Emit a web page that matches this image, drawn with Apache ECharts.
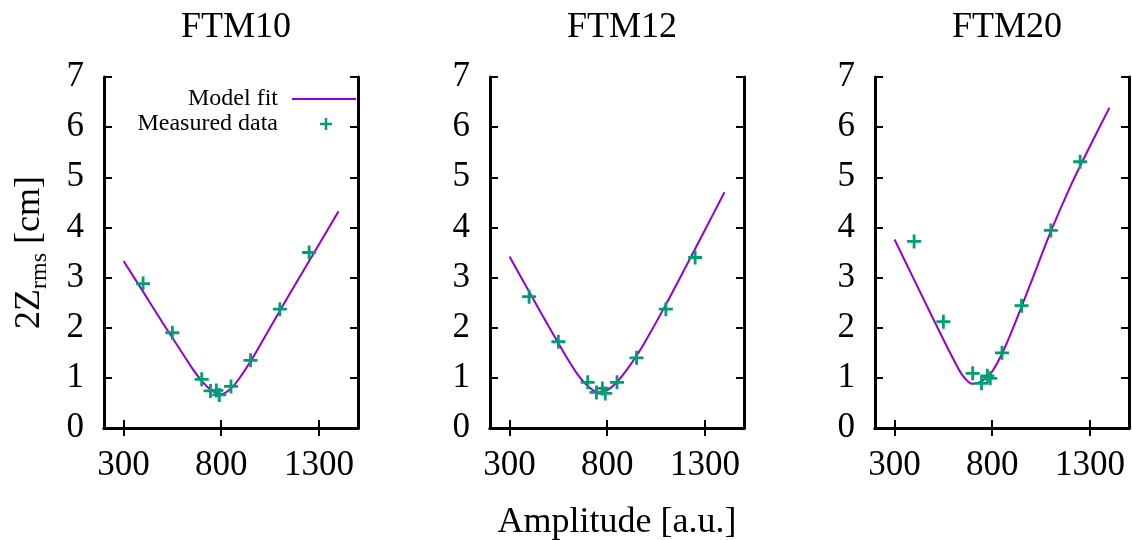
<!DOCTYPE html>
<html>
<head>
<meta charset="UTF-8">
<title>2Zrms vs Amplitude</title>
<script type="text/javascript" src="https://cdn.jsdelivr.net/npm/echarts@6/dist/echarts.min.js"></script>
<style>
html,body{margin:0;padding:0;background:#fff;}
#main{width:1132px;height:540px;}
</style>
</head>
<body>
<div id="main"></div>
<script type="text/javascript">
// panel names
var panelNames = ['FTM10', 'FTM12', 'FTM20'];
// measured points (amplitude, 2Zrms)
var measAmp   = [400, 550, 700, 745, 775, 790, 850, 950, 1100, 1250];
var measFTM10 = [2.88, 1.90, 0.97, 0.74, 0.75, 0.66, 0.83, 1.35, 2.37, 3.50];
var measFTM12 = [2.62, 1.72, 0.91, 0.71, 0.79, 0.69, 0.91, 1.40, 2.37, 3.40];
var measFTM20 = [3.72, 2.12, 1.09, 0.89, 1.04, 0.99, 1.50, 2.44, 3.94, 5.31];
// model fit curves
var fitAmp   = [300, 400, 500, 600, 650, 700, 750, 800, 850, 900, 950, 1000, 1100, 1200, 1300, 1400];
var fitFTM10 = [3.33, 2.72, 2.10, 1.50, 1.20, 0.94, 0.75, 0.68, 0.79, 1.03, 1.33, 1.66, 2.34, 3.00, 3.66, 4.32];
var fitFTM12 = [3.42, 2.72, 2.03, 1.36, 1.06, 0.84, 0.72, 0.75, 0.92, 1.16, 1.44, 1.76, 2.46, 3.20, 3.95, 4.70];
var fitFTM20 = [3.76, 2.96, 2.16, 1.38, 1.04, 0.88, 0.94, 1.13, 1.48, 1.93, 2.42, 2.92, 3.92, 4.82, 5.62, 6.39];
// axis ticks
var xTicks = [300, 800, 1300];

var measList = [measFTM10, measFTM12, measFTM20];
var fitList = [fitFTM10, fitFTM12, fitFTM20];

var FONT = 'Liberation Serif';
var gridLeft = [104, 490, 875];
var gridTop = 77, gridW = 254, gridH = 351;
// plus marker, and same marker padded to legend sample width
var plusPath = 'path://M4.8,0 H7.2 V4.8 H12 V7.2 H7.2 V12 H4.8 V7.2 H0 V4.8 H4.8 Z';
var plusLegend = 'path://M0,0 L0.01,0 L0,0.01 Z M32.8,0 H35.2 V4.8 H40 V7.2 H35.2 V12 H32.8 V7.2 H28 V4.8 H32.8 Z M64,12 L63.99,12 L64,11.99 Z';

var chart = echarts.init(document.getElementById('main'));

var grids = [], xAxes = [], yAxes = [], series = [], titles = [];
var frame = {show: true, lineStyle: {color: '#000', width: 3}};
var tick = {show: true, inside: true, length: 8, lineStyle: {color: '#000', width: 2}};

for (var i = 0; i < 3; i++) {
  grids.push({left: gridLeft[i], top: gridTop, width: gridW, height: gridH, outerBoundsMode: 'none', containLabel: false});
  titles.push({
    text: panelNames[i], left: gridLeft[i] + gridW / 2, top: 5, textAlign: 'center',
    textStyle: {fontFamily: FONT, fontSize: 36, fontWeight: 'normal', color: '#000'}
  });
}
// bottom x axes
for (var i = 0; i < 3; i++) {
  xAxes.push({
    type: 'value', gridIndex: i, min: 200, max: 1500, position: 'bottom',
    axisLine: frame, splitLine: {show: false},
    axisTick: {show: true, inside: true, length: 8, lineStyle: {color: '#000', width: 2}, customValues: xTicks},
    axisLabel: {
      customValues: xTicks, fontFamily: FONT, fontSize: 35, color: '#000', margin: 20,
      formatter: function (v) { return String(v); }
    },
    name: i == 1 ? 'Amplitude [a.u.]' : '', nameLocation: 'middle', nameGap: 77,
    nameTextStyle: {fontFamily: FONT, fontSize: 36, color: '#000'}
  });
}
// top x axes (border)
for (var i = 0; i < 3; i++) {
  xAxes.push({
    type: 'value', gridIndex: i, min: 200, max: 1500, position: 'top',
    axisLine: frame, splitLine: {show: false},
    axisTick: {show: true, inside: true, length: 8, lineStyle: {color: '#000', width: 2}, customValues: xTicks},
    axisLabel: {show: false}
  });
}
// left y axes
for (var i = 0; i < 3; i++) {
  yAxes.push({
    type: 'value', gridIndex: i, min: 0, max: 7, interval: 1, position: 'left',
    axisLine: frame, axisTick: tick, splitLine: {show: false},
    axisLabel: {fontFamily: FONT, fontSize: 35, color: '#000', margin: 20},
    name: i == 0 ? '{a|2Z}{s|rms}{a| [cm]}' : '', nameLocation: 'middle', nameRotate: 90, nameGap: 52,
    nameTextStyle: {
      fontFamily: FONT, fontSize: 36, color: '#000',
      rich: {
        a: {fontFamily: FONT, fontSize: 36, lineHeight: 44, color: '#000'},
        s: {fontFamily: FONT, fontSize: 24, lineHeight: 24, verticalAlign: 'bottom', color: '#000'}
      }
    }
  });
}
// right y axes (border)
for (var i = 0; i < 3; i++) {
  yAxes.push({
    type: 'value', gridIndex: i, min: 0, max: 7, interval: 1, position: 'right',
    axisLine: frame, axisTick: tick, splitLine: {show: false}, axisLabel: {show: false}
  });
}

for (var i = 0; i < 3; i++) {
  var fit = fitList[i], meas = measList[i];
  series.push({
    name: 'Model fit', type: 'line', xAxisIndex: i, yAxisIndex: i,
    data: fitAmp.map(function (x, k) { return [x, fit[k]]; }),
    smooth: 0.3, showSymbol: false, silent: true, z: 3,
    lineStyle: {color: '#9400d3', width: 2}, itemStyle: {color: '#9400d3'}
  });
  series.push({
    name: 'Measured data', type: 'scatter', xAxisIndex: i, yAxisIndex: i,
    data: measAmp.map(function (x, k) { return [x, meas[k]]; }),
    symbol: plusPath, symbolSize: 14, silent: true, z: 4,
    itemStyle: {color: '#009e73', opacity: 1}
  });
}

chart.setOption({
  animation: false,
  backgroundColor: '#fff',
  title: titles,
  legend: [
    {
      data: ['Model fit'], right: 776, top: 87, padding: 0, align: 'right', selectedMode: false,
      icon: 'rect', itemWidth: 64, itemHeight: 2,
      textStyle: {fontFamily: FONT, fontSize: 24, color: '#000', padding: [0, 9, 0, 0]}
    },
    {
      data: ['Measured data'], right: 776, top: 112, padding: 0, align: 'right', selectedMode: false,
      icon: plusLegend, itemWidth: 64, itemHeight: 12,
      textStyle: {fontFamily: FONT, fontSize: 24, color: '#000', padding: [0, 9, 0, 0]}
    }
  ],
  grid: grids,
  xAxis: xAxes,
  yAxis: yAxes,
  series: series
});
</script>
</body>
</html>
